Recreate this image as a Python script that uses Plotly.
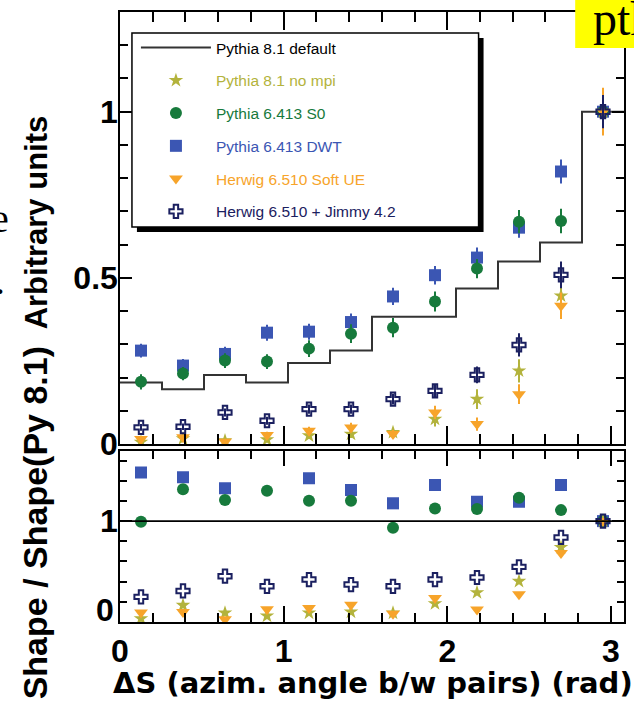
import numpy as np
import plotly.graph_objects as go

# ---- binning of the azimuthal angle between pairs ----
x_min, x_max, n_bins = 0.0, 3.08, 12
edges = np.linspace(x_min, x_max, n_bins + 1)
centers = 0.5 * (edges[:-1] + edges[1:])

# ---- normalised shapes (arbitrary units) ----
py81_default = [0.185, 0.165, 0.208, 0.185, 0.244, 0.281, 0.383, 0.383, 0.468, 0.549, 0.606, 1.0]
py81_nompi   = [0.006, 0.016, 0.010, 0.013, 0.025, 0.030, 0.035, 0.075, 0.135, 0.220, 0.446, 1.0]
py6413_s0    = [0.187, 0.212, 0.251, 0.248, 0.287, 0.332, 0.350, 0.429, 0.528, 0.669, 0.671, 1.0]
py6413_dwt   = [0.281, 0.236, 0.271, 0.335, 0.338, 0.367, 0.444, 0.508, 0.561, 0.651, 0.820, 1.0]
hw_softue    = [0.015, 0.020, 0.007, 0.027, 0.040, 0.050, 0.030, 0.095, 0.060, 0.150, 0.416, 1.0]
hw_jimmy     = [0.050, 0.052, 0.095, 0.070, 0.105, 0.105, 0.135, 0.160, 0.208, 0.298, 0.509, 1.0]

# statistical uncertainties
err_nompi  = [0.008, 0.008, 0.008, 0.008, 0.010, 0.012, 0.012, 0.022, 0.030, 0.035, 0.040, 0.06]
err_s0     = [0.023, 0.020, 0.022, 0.022, 0.025, 0.028, 0.029, 0.030, 0.029, 0.035, 0.037, 0.05]
err_dwt    = [0.021, 0.020, 0.022, 0.024, 0.024, 0.026, 0.026, 0.028, 0.030, 0.030, 0.036, 0.05]
err_softue = [0.008, 0.008, 0.008, 0.010, 0.012, 0.014, 0.012, 0.020, 0.020, 0.030, 0.040, 0.072]
err_jimmy  = [0.010, 0.010, 0.012, 0.012, 0.014, 0.014, 0.016, 0.020, 0.025, 0.035, 0.040, 0.05]

# ---- ratio to Pythia 8.1 default ----
r_nompi  = [0.033, 0.166, 0.090, 0.060, 0.090, 0.100, 0.090, 0.183, 0.292, 0.404, 0.739, 1.0]
r_s0     = [0.993, 1.315, 1.209, 1.301, 1.202, 1.202, 0.934, 1.126, 1.119, 1.232, 1.109, 1.0]
r_dwt    = [1.483, 1.434, 1.325, None, 1.424, 1.308, 1.176, 1.358, 1.192, 1.192, 1.358, 1.0]
r_softue = [0.093, 0.100, 0.027, 0.126, 0.139, 0.172, 0.083, 0.238, 0.123, 0.275, 0.685, 1.0]
r_jimmy  = [0.249, 0.308, 0.454, 0.354, 0.421, 0.371, 0.354, 0.421, 0.441, 0.546, 0.838, 1.0]

x_ticks = [0, 1, 2, 3]
x_ticktext = ["0", "1", "2", "3"]
y_ticks_top = [0, 0.5, 1]
y_ticktext_top = ["0", "0.5", "1"]
y_ticks_bot = [0, 1]

C_LINE = "#333333"
C_NOMPI = "#b3b33c"
C_S0 = "#177a3c"
C_DWT = "#3b56b3"
C_SOFT = "#f7a42a"
C_JIMMY = "#1b2060"

W, H = 634, 702
ML, MR, MT, MB = 120, 8, 12, 80
PW, PH = W - ML - MR, H - MT - MB


def px_x(p):
    return (p - ML) / PW


def px_y(p):
    return (H - MB - p) / PH


series = [
    # name, values, errors, ratio, colour, symbol, size, rank
    ("Pythia 6.413 DWT", py6413_dwt, err_dwt, r_dwt, C_DWT, "square", 12, 4),
    ("Pythia 6.413 S0", py6413_s0, err_s0, r_s0, C_S0, "circle", 12, 3),
    ("Pythia 8.1 no mpi", py81_nompi, err_nompi, r_nompi, C_NOMPI, "star", 11, 2),
    ("Herwig 6.510 Soft UE", hw_softue, err_softue, r_softue, C_SOFT, "triangle-down", 12, 5),
    ("Herwig 6.510 + Jimmy 4.2", hw_jimmy, err_jimmy, r_jimmy, C_JIMMY, "cross-open", 11, 6),
]

fig = go.Figure()

# Pythia 8.1 default as a step histogram
fig.add_trace(go.Scatter(
    x=edges, y=py81_default + [py81_default[-1]],
    mode="lines", line=dict(color=C_LINE, width=2, shape="hv"),
    name="Pythia 8.1 default", legendgroup="g0", legendrank=1,
    xaxis="x", yaxis="y",
))

for name, vals, errs, ratio, col, sym, size, rank in series:
    is_open = sym.endswith("open")
    mk = dict(symbol=sym, size=size, color=col,
              line=dict(width=2 if is_open else 0, color=col))
    fig.add_trace(go.Scatter(
        x=centers, y=vals, mode="markers", marker=mk,
        error_y=dict(type="data", array=errs, visible=True, color=col,
                     thickness=2, width=0),
        name=f"<span style='color:{col}'>{name}</span>",
        legendgroup=f"g{rank}", legendrank=rank,
        xaxis="x", yaxis="y",
    ))
    fig.add_trace(go.Scatter(
        x=centers, y=ratio, mode="markers", marker=mk,
        showlegend=False, xaxis="x2", yaxis="y2",
    ))

axis_common = dict(
    showline=True, linecolor="black", linewidth=1.5, mirror="allticks",
    ticks="inside", tickcolor="black", tickwidth=1.5,
    showgrid=False, zeroline=False,
)
tick_font = dict(family="Liberation Sans", size=32, color="black", weight="bold")

fig.update_layout(
    width=W, height=H, autosize=False,
    margin=dict(l=ML, r=MR, t=MT, b=MB),
    paper_bgcolor="white", plot_bgcolor="white",
    showlegend=True,
    xaxis=dict(domain=[0, 1], range=[x_min, x_max], anchor="y",
               tickvals=x_ticks, ticklen=18, showticklabels=False,
               minor=dict(dtick=0.2, tick0=0, ticklen=10, ticks="inside",
                          tickcolor="black", tickwidth=1.5),
               **axis_common),
    yaxis=dict(domain=[px_y(444), 1], range=[0, 1.3], anchor="x",
               tickvals=y_ticks_top, ticktext=y_ticktext_top, ticklen=12,
               tickfont=tick_font, ticklabelstandoff=-6,
               minor=dict(dtick=0.1, tick0=0, ticklen=8, ticks="inside",
                          tickcolor="black", tickwidth=1.5),
               **axis_common),
    xaxis2=dict(domain=[0, 1], range=[x_min, x_max], anchor="y2",
                tickvals=x_ticks, ticktext=x_ticktext, ticklen=16,
                tickfont=tick_font,
                minor=dict(dtick=0.2, tick0=0, ticklen=9, ticks="inside",
                           tickcolor="black", tickwidth=1.5),
                **axis_common),
    # the zero of the ratio axis is written separately, lifted off the corner
    yaxis2=dict(domain=[0, px_y(450.5)], range=[0, 1.7], anchor="x2",
                tickvals=y_ticks_bot, ticktext=["", "1"], ticklen=12,
                tickfont=tick_font, ticklabelstandoff=-6,
                minor=dict(dtick=0.2, tick0=0, ticklen=7, ticks="inside",
                           tickcolor="black", tickwidth=1.5),
                **axis_common),
    legend=dict(
        x=px_x(136), y=px_y(31), xanchor="left", yanchor="top",
        bgcolor="rgba(0,0,0,0)", borderwidth=0,
        font=dict(family="Liberation Sans", size=15.5, color="black"),
        itemwidth=70, tracegroupgap=9.6, itemsizing="trace",
    ),
)

fig.add_annotation(text="0", xref="paper", yref="y2", x=px_x(116), y=0.12,
                   xanchor="right", yanchor="middle", showarrow=False,
                   font=tick_font)

# reference line for the ratio panel
fig.add_shape(type="line", xref="x2 domain", yref="y2", x0=0, x1=1, y0=1, y1=1,
              line=dict(color="black", width=1.8))

# legend frame with drop shadow
fig.add_shape(type="rect", xref="paper", yref="paper",
              x0=px_x(137), x1=px_x(485), y0=px_y(232), y1=px_y(38),
              fillcolor="black", line=dict(width=0), layer="above")
fig.add_shape(type="rect", xref="paper", yref="paper",
              x0=px_x(132), x1=px_x(480), y0=px_y(227), y1=px_y(33),
              fillcolor="white", line=dict(color="black", width=1.5), layer="above")

# yellow tag in the corner
fig.add_shape(type="rect", xref="paper", yref="paper",
              x0=px_x(577), x1=px_x(640), y0=px_y(48), y1=px_y(-2),
              fillcolor="#ffff00", line=dict(width=0), layer="above")

title_font = dict(family="Liberation Sans", size=31, color="black", weight="bold")
fig.add_annotation(text="pth", xref="paper", yref="paper",
                   x=px_x(593), y=px_y(19), xanchor="left", yanchor="middle",
                   showarrow=False,
                   font=dict(family="Liberation Serif", size=48, color="black"))
fig.add_annotation(text="Arbitrary units", xref="paper", yref="paper",
                   x=px_x(36), y=px_y(222), xanchor="center", yanchor="middle",
                   textangle=-90, showarrow=False, font=title_font)
fig.add_annotation(text="Shape / Shape(Py 8.1)", xref="paper", yref="paper",
                   x=px_x(35), y=px_y(523), xanchor="center", yanchor="middle",
                   textangle=-90, showarrow=False,
                   font=dict(title_font, size=34))
fig.add_annotation(text="ΔS (azim. angle b/w pairs) (rad)", xref="paper", yref="paper",
                   x=px_x(111), y=px_y(683), xanchor="left", yanchor="middle",
                   showarrow=False,
                   font=dict(family="DejaVu Sans", size=29, color="black", weight="bold"))
# fragments of neighbouring text at the left edge
fig.add_annotation(text="e", xref="paper", yref="paper",
                   x=px_x(11), y=px_y(218), xanchor="right", yanchor="middle",
                   showarrow=False,
                   font=dict(family="Liberation Serif", size=40, color="black"))
fig.add_annotation(text=".", xref="paper", yref="paper",
                   x=px_x(7), y=px_y(280), xanchor="right", yanchor="middle",
                   showarrow=False,
                   font=dict(family="Liberation Serif", size=40, color="black"))

fig.write_html("out.html")
